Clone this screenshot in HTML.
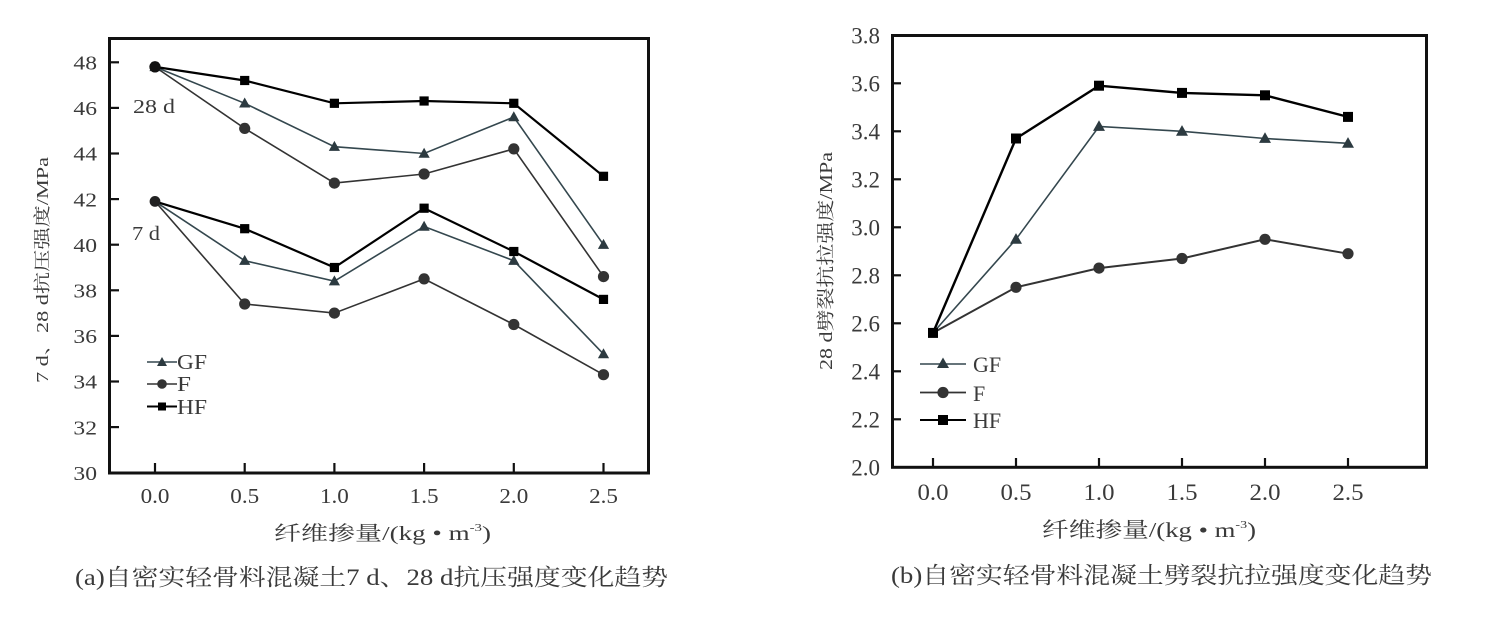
<!DOCTYPE html>
<html><head><meta charset="utf-8">
<style>
html,body{margin:0;padding:0;background:#fff;}
svg{display:block;}
text{font-family:"Liberation Serif","Noto Serif CJK SC",serif;fill:#3a3a3a;}
</style></head>
<body>
<svg width="1489" height="624" viewBox="0 0 1489 624" xmlns="http://www.w3.org/2000/svg">
<defs>
<marker id="tri" markerUnits="userSpaceOnUse" markerWidth="14" markerHeight="14" refX="7" refY="7" viewBox="0 0 14 14" overflow="visible"><path d="M7,1.2 L12.6,11.2 L1.4,11.2 Z" fill="#2c3a40"/></marker>
<marker id="cir" markerUnits="userSpaceOnUse" markerWidth="14" markerHeight="14" refX="7" refY="7" viewBox="0 0 14 14" overflow="visible"><circle cx="7" cy="7" r="5.6" fill="#333"/></marker>
<marker id="sq" markerUnits="userSpaceOnUse" markerWidth="14" markerHeight="14" refX="7" refY="7" viewBox="0 0 14 14" overflow="visible"><rect x="2.4" y="2.4" width="9.2" height="9.2" fill="#000"/></marker>
<marker id="triR" markerUnits="userSpaceOnUse" markerWidth="14" markerHeight="14" refX="7" refY="7" viewBox="0 0 14 14" overflow="visible"><path d="M7,0.8 L13,11.4 L1,11.4 Z" fill="#2c3a40"/></marker>
<marker id="sqR" markerUnits="userSpaceOnUse" markerWidth="14" markerHeight="14" refX="7" refY="7" viewBox="0 0 14 14" overflow="visible"><rect x="2" y="2" width="10" height="10" fill="#000"/></marker>
</defs>
<rect width="1489" height="624" fill="#fff"/>

<!-- ================= LEFT CHART ================= -->
<rect x="109.5" y="38.5" width="539" height="434.5" fill="none" stroke="#111" stroke-width="3"/>
<!-- y ticks -->
<g stroke="#111" stroke-width="2.2">
<line x1="110" y1="62.3" x2="119" y2="62.3"/>
<line x1="110" y1="107.9" x2="119" y2="107.9"/>
<line x1="110" y1="153.5" x2="119" y2="153.5"/>
<line x1="110" y1="199.1" x2="119" y2="199.1"/>
<line x1="110" y1="244.7" x2="119" y2="244.7"/>
<line x1="110" y1="290.3" x2="119" y2="290.3"/>
<line x1="110" y1="335.9" x2="119" y2="335.9"/>
<line x1="110" y1="381.5" x2="119" y2="381.5"/>
<line x1="110" y1="427.1" x2="119" y2="427.1"/>
<line x1="155" y1="472" x2="155" y2="463"/>
<line x1="244.7" y1="472" x2="244.7" y2="463"/>
<line x1="334.4" y1="472" x2="334.4" y2="463"/>
<line x1="424.1" y1="472" x2="424.1" y2="463"/>
<line x1="513.8" y1="472" x2="513.8" y2="463"/>
<line x1="603.5" y1="472" x2="603.5" y2="463"/>
</g>
<g font-size="20" text-anchor="end">
<text transform="translate(97,69.5) scale(1.18,1)">48</text>
<text transform="translate(97,115.1) scale(1.18,1)">46</text>
<text transform="translate(97,160.7) scale(1.18,1)">44</text>
<text transform="translate(97,206.3) scale(1.18,1)">42</text>
<text transform="translate(97,251.9) scale(1.18,1)">40</text>
<text transform="translate(97,297.5) scale(1.18,1)">38</text>
<text transform="translate(97,343.1) scale(1.18,1)">36</text>
<text transform="translate(97,388.7) scale(1.18,1)">34</text>
<text transform="translate(97,434.3) scale(1.18,1)">32</text>
<text transform="translate(97,479.9) scale(1.18,1)">30</text>
</g>
<g font-size="21" text-anchor="middle">
<text transform="translate(155,503) scale(1.1,1)">0.0</text>
<text transform="translate(244.7,503) scale(1.1,1)">0.5</text>
<text transform="translate(334.4,503) scale(1.1,1)">1.0</text>
<text transform="translate(424.1,503) scale(1.1,1)">1.5</text>
<text transform="translate(513.8,503) scale(1.1,1)">2.0</text>
<text transform="translate(603.5,503) scale(1.1,1)">2.5</text>
</g>
<text x="274" y="540" font-size="20" textLength="217" lengthAdjust="spacingAndGlyphs" fill="#444">纤维掺量/(kg • m<tspan font-size="11" dy="-9">-3</tspan><tspan dy="9">)</tspan></text>
<text transform="translate(48,383) rotate(-90)" font-size="17" textLength="226" lengthAdjust="spacingAndGlyphs" fill="#444">7 d、28 d抗压强度/MPa</text>
<text x="133" y="113" font-size="20" textLength="42" lengthAdjust="spacingAndGlyphs">28 d</text>
<text x="132" y="240" font-size="20" textLength="28" lengthAdjust="spacingAndGlyphs">7 d</text>

<!-- 28d series -->
<polyline points="155,66.9 244.7,128.4 334.4,183.1 424.1,174 513.8,148.9 603.5,276.6" fill="none" stroke="#333" stroke-width="1.6" marker-start="url(#cir)" marker-mid="url(#cir)" marker-end="url(#cir)"/>
<polyline points="155,66.9 244.7,103.3 334.4,146.7 424.1,153.5 513.8,117 603.5,244.7" fill="none" stroke="#34474e" stroke-width="1.6" marker-start="url(#tri)" marker-mid="url(#tri)" marker-end="url(#tri)"/>
<polyline points="155,66.9 244.7,80.5 334.4,103.3 424.1,101 513.8,103.3 603.5,176.3" fill="none" stroke="#000" stroke-width="2.2" marker-mid="url(#sq)" marker-end="url(#sq)"/>
<circle cx="155" cy="66.9" r="5.6" fill="#111"/>
<!-- 7d series -->
<polyline points="155,201.4 244.7,304 334.4,313.1 424.1,278.9 513.8,324.5 603.5,374.7" fill="none" stroke="#333" stroke-width="1.6" marker-mid="url(#cir)" marker-end="url(#cir)"/>
<polyline points="155,201.4 244.7,260.7 334.4,281.2 424.1,226.5 513.8,260.7 603.5,354.1" fill="none" stroke="#34474e" stroke-width="1.6" marker-mid="url(#tri)" marker-end="url(#tri)"/>
<polyline points="155,201.4 244.7,228.7 334.4,267.5 424.1,208.2 513.8,251.5 603.5,299.4" fill="none" stroke="#000" stroke-width="2.2" marker-mid="url(#sq)" marker-end="url(#sq)"/>
<circle cx="155" cy="201.4" r="5.4" fill="#222"/>

<!-- left legend -->
<line x1="147" y1="362" x2="177" y2="362" stroke="#34474e" stroke-width="1.6"/>
<path d="M162,357 L167,366 L157,366 Z" fill="#2c3a40"/>
<line x1="147" y1="384" x2="177" y2="384" stroke="#333" stroke-width="1.6"/>
<circle cx="162" cy="384" r="4.8" fill="#333"/>
<line x1="147" y1="406.5" x2="177" y2="406.5" stroke="#000" stroke-width="2"/>
<rect x="158" y="402.5" width="8" height="8" fill="#000"/>
<g font-size="21">
<text x="177" y="369" textLength="30" lengthAdjust="spacingAndGlyphs">GF</text>
<text x="177" y="391" textLength="14" lengthAdjust="spacingAndGlyphs">F</text>
<text x="177" y="414" textLength="30" lengthAdjust="spacingAndGlyphs">HF</text>
</g>

<text x="75" y="585" font-size="23" textLength="593" lengthAdjust="spacingAndGlyphs" fill="#2a2a2a">(a)自密实轻骨料混凝土7 d、28 d抗压强度变化趋势</text>

<!-- ================= RIGHT CHART ================= -->
<rect x="892.5" y="35.5" width="534" height="431.8" fill="none" stroke="#111" stroke-width="3"/>
<g stroke="#111" stroke-width="2.2">
<line x1="893" y1="83.3" x2="901" y2="83.3"/>
<line x1="893" y1="131.3" x2="901" y2="131.3"/>
<line x1="893" y1="179.3" x2="901" y2="179.3"/>
<line x1="893" y1="227.3" x2="901" y2="227.3"/>
<line x1="893" y1="275.3" x2="901" y2="275.3"/>
<line x1="893" y1="323.3" x2="901" y2="323.3"/>
<line x1="893" y1="371.3" x2="901" y2="371.3"/>
<line x1="893" y1="419.3" x2="901" y2="419.3"/>
<line x1="933" y1="466" x2="933" y2="458"/>
<line x1="1016" y1="466" x2="1016" y2="458"/>
<line x1="1099" y1="466" x2="1099" y2="458"/>
<line x1="1182" y1="466" x2="1182" y2="458"/>
<line x1="1265" y1="466" x2="1265" y2="458"/>
<line x1="1348" y1="466" x2="1348" y2="458"/>
</g>
<g font-size="23" text-anchor="end">
<text x="880" y="43.3">3.8</text>
<text x="880" y="91.3">3.6</text>
<text x="880" y="139.3">3.4</text>
<text x="880" y="187.3">3.2</text>
<text x="880" y="235.3">3.0</text>
<text x="880" y="283.3">2.8</text>
<text x="880" y="331.3">2.6</text>
<text x="880" y="379.3">2.4</text>
<text x="880" y="427.3">2.2</text>
<text x="880" y="475.3">2.0</text>
</g>
<g font-size="23" text-anchor="middle">
<text transform="translate(933,500) scale(1.08,1)">0.0</text>
<text transform="translate(1016,500) scale(1.08,1)">0.5</text>
<text transform="translate(1099,500) scale(1.08,1)">1.0</text>
<text transform="translate(1182,500) scale(1.08,1)">1.5</text>
<text transform="translate(1265,500) scale(1.08,1)">2.0</text>
<text transform="translate(1348,500) scale(1.08,1)">2.5</text>
</g>
<text x="1042" y="537" font-size="21" textLength="214" lengthAdjust="spacingAndGlyphs" fill="#444">纤维掺量/(kg • m<tspan font-size="11" dy="-9">-3</tspan><tspan dy="9">)</tspan></text>
<text transform="translate(832,370) rotate(-90)" font-size="18" textLength="218" lengthAdjust="spacingAndGlyphs" fill="#444">28 d劈裂抗拉强度/MPa</text>

<polyline points="933,332.9 1016,287.3 1099,268.1 1182,258.5 1265,239.3 1348,253.7" fill="none" stroke="#333" stroke-width="2" marker-mid="url(#cir)" marker-end="url(#cir)"/>
<polyline points="933,332.9 1016,239.3 1099,126.5 1182,131.3 1265,138.5 1348,143.3" fill="none" stroke="#34474e" stroke-width="1.6" marker-mid="url(#triR)" marker-end="url(#triR)"/>
<polyline points="933,332.9 1016,138.5 1099,85.7 1182,92.9 1265,95.3 1348,116.9" fill="none" stroke="#000" stroke-width="2.4" marker-start="url(#sqR)" marker-mid="url(#sqR)" marker-end="url(#sqR)"/>

<!-- right legend -->
<line x1="920" y1="364" x2="966" y2="364" stroke="#34474e" stroke-width="1.6"/>
<path d="M943,357.5 L949,368 L937,368 Z" fill="#2c3a40"/>
<line x1="920" y1="392.5" x2="966" y2="392.5" stroke="#333" stroke-width="1.8"/>
<circle cx="943" cy="392.5" r="5.6" fill="#333"/>
<line x1="920" y1="420" x2="966" y2="420" stroke="#000" stroke-width="2"/>
<rect x="938" y="415" width="10" height="10" fill="#000"/>
<g font-size="22">
<text x="973" y="372">GF</text>
<text x="973" y="401">F</text>
<text x="973" y="428">HF</text>
</g>

<text x="891" y="583" font-size="23" textLength="541" lengthAdjust="spacingAndGlyphs" fill="#2a2a2a">(b)自密实轻骨料混凝土劈裂抗拉强度变化趋势</text>
</svg>
</body></html>
